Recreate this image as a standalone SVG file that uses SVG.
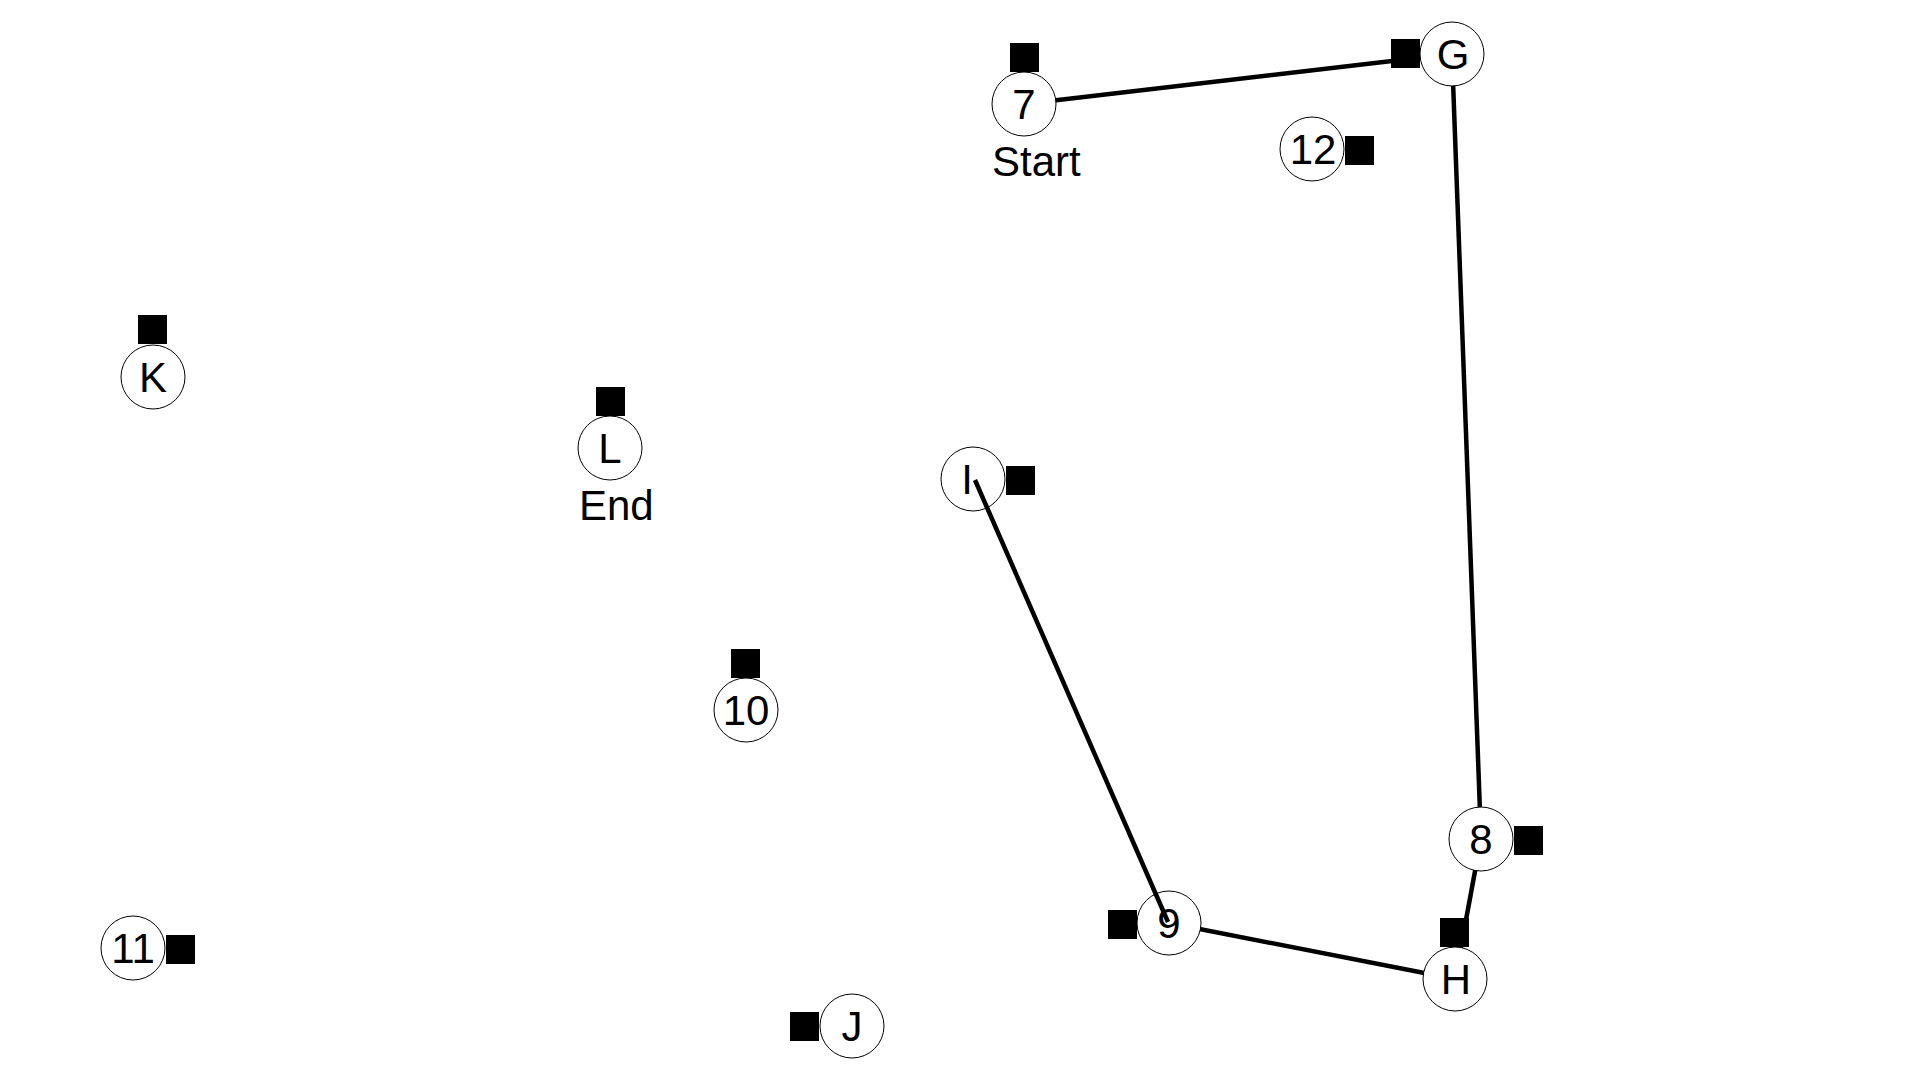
<svg xmlns="http://www.w3.org/2000/svg" width="1920" height="1080" viewBox="0 0 1920 1080">
<style>
.n circle{fill:#fff;stroke:#000;stroke-width:1}
.n rect{fill:#000}
.n text{font-family:"Liberation Sans",Arial,sans-serif;font-size:42px;fill:#000;text-anchor:middle}
.cap{font-family:"Liberation Sans",Arial,sans-serif;font-size:41px;fill:#002800}
.e line{stroke:#000;stroke-width:4.5;stroke-linecap:butt}
</style>
<rect width="1920" height="1080" fill="#fff"/>
<g id="connectors" class="e">
<line x1="1024" y1="104" x2="1452" y2="54"/>
<line x1="1452" y1="54" x2="1481" y2="839"/>
<line x1="1481" y1="839" x2="1455" y2="979"/>
<line x1="1169" y1="923" x2="1455" y2="979"/>
</g>
<g id="node-7" class="n"><rect x="1010" y="43" width="29" height="29"/><circle cx="1024" cy="104" r="32"/><text x="1024" y="119">7</text><text class="cap" x="992" y="176" style="text-anchor:start">Start</text></g>
<g id="node-G" class="n"><rect x="1391" y="39" width="29" height="29"/><circle cx="1452" cy="54" r="32"/><text x="1453" y="69">G</text></g>
<g id="node-12" class="n"><rect x="1345" y="136" width="29" height="29"/><circle cx="1312" cy="149" r="32"/><text x="1313" y="164">12</text></g>
<g id="node-K" class="n"><rect x="138" y="315" width="29" height="29"/><circle cx="153" cy="377" r="32"/><text x="153" y="392">K</text></g>
<g id="node-L" class="n"><rect x="596" y="387" width="29" height="29"/><circle cx="610" cy="448" r="32"/><text x="610" y="463">L</text><text class="cap" x="579" y="520" style="text-anchor:start;fill:#000">End</text></g>
<g id="node-I" class="n"><rect x="1006" y="466" width="29" height="29"/><circle cx="973" cy="479" r="32"/><text x="967" y="494">I</text></g>
<g id="node-10" class="n"><rect x="731" y="649" width="29" height="29"/><circle cx="746" cy="710" r="32"/><text x="746" y="725">10</text></g>
<g id="node-8" class="n"><rect x="1514" y="826" width="29" height="29"/><circle cx="1481" cy="839" r="32"/><text x="1481" y="854">8</text></g>
<g id="node-9" class="n"><rect x="1108" y="910" width="29" height="29"/><circle cx="1169" cy="923" r="32"/><text x="1169" y="938">9</text></g>
<g id="node-H" class="n"><rect x="1440" y="918" width="29" height="29"/><circle cx="1455" cy="979" r="32"/><text x="1456" y="994">H</text></g>
<g id="node-11" class="n"><rect x="166" y="935" width="29" height="29"/><circle cx="133" cy="948" r="32"/><text x="133" y="963">11</text></g>
<g id="node-J" class="n"><rect x="790" y="1012" width="29" height="29"/><circle cx="852" cy="1026" r="32"/><text x="852" y="1041">J</text></g>
<g id="connectors-top" class="e">
<line x1="975" y1="480" x2="1168" y2="922"/>
</g>
</svg>
